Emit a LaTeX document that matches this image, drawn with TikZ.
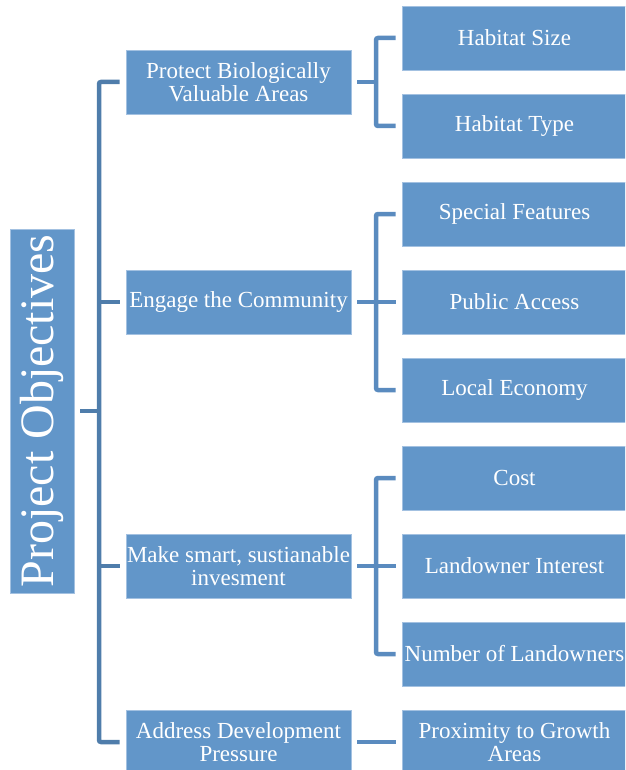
\documentclass[tikz,border=0pt]{standalone}
\usepackage{fontspec}
\setmainfont{Liberation Serif}
\usepackage{tikz}
\definecolor{CBox}{RGB}{98,150,201}
\definecolor{CEdge}{RGB}{163,193,225}
\definecolor{CTrunk}{RGB}{79,125,171}
\definecolor{CBracket}{RGB}{90,139,191}

\begin{document}
\begin{tikzpicture}[x=1pt, y=-1pt,
    box/.style={fill=CBox, draw=CEdge, line width=0.8pt, text=white, inner sep=0pt,
        minimum width=225pt, minimum height=64pt, align=center,
        font=\fontsize{23}{23}\selectfont},
    trunk/.style={CTrunk, line width=4.5pt, rounded corners=2pt},
    bracket/.style={CBracket, line width=4.5pt, rounded corners=2pt}]
    \useasboundingbox (0, 0) rectangle (625, 770);
    \clip (0, 0) rectangle (625, 770);

    \node [box, minimum width=64pt, minimum height=364pt] (root) at (42, 411)
        {\rotatebox{90}{\fontsize{48}{48}\selectfont Project Objectives}};

    \node [box] (prot) at (238.5, 82)  {Protect Biologically\\Valuable Areas};
    \node [box] (eng)  at (238.5, 302) {Engage the Community};
    \node [box] (inv)  at (238.5, 566) {Make smart, sustianable\\invesment};
    \node [box] (dev)  at (238.5, 742) {Address Development\\Pressure};

    \node [box] (hsize) at (514.5, 38)  {Habitat Size};
    \node [box] (htype) at (514.5, 126) {Habitat Type};
    \node [box] (feat)  at (514.5, 214) {Special Features};
    \node [box] (acc)   at (514.5, 302) {Public Access};
    \node [box] (econ)  at (514.5, 390) {Local Economy};
    \node [box] (cost)  at (514.5, 478) {Cost};
    \node [box] (intr)  at (514.5, 566) {Landowner Interest};
    \node [box] (nown)  at (514.5, 654) {Number of Landowners};
    \node [box] (grow)  at (514.5, 742) {Proximity to Growth\\Areas};

    \coordinate (spine) at (99, 0);
    \coordinate (brk) at (376, 0);

    % left tree
    \draw [trunk] ([xshift=6pt]root.east) -- (root.east -| spine);
    \draw [trunk] ([xshift=-6pt]prot.west) -| (spine |- dev.west) -- ([xshift=-6pt]dev.west);
    \draw [trunk] ([xshift=-6pt]eng.west) -- (eng.west -| spine);
    \draw [trunk] ([xshift=-6pt]inv.west) -- (inv.west -| spine);

    % right brackets
    \draw [bracket] ([xshift=6pt]prot.east) -- (prot.east -| brk);
    \draw [bracket] ([xshift=-6pt]hsize.west) -| (brk |- htype.west) -- ([xshift=-6pt]htype.west);

    \draw [bracket] ([xshift=6pt]eng.east) -- ([xshift=-6pt]acc.west);
    \draw [bracket] ([xshift=-6pt]feat.west) -| (brk |- econ.west) -- ([xshift=-6pt]econ.west);

    \draw [bracket] ([xshift=6pt]inv.east) -- ([xshift=-6pt]intr.west);
    \draw [bracket] ([xshift=-6pt]cost.west) -| (brk |- nown.west) -- ([xshift=-6pt]nown.west);

    \draw [bracket] ([xshift=6pt]dev.east) -- ([xshift=-6pt]grow.west);
\end{tikzpicture}
\end{document}
